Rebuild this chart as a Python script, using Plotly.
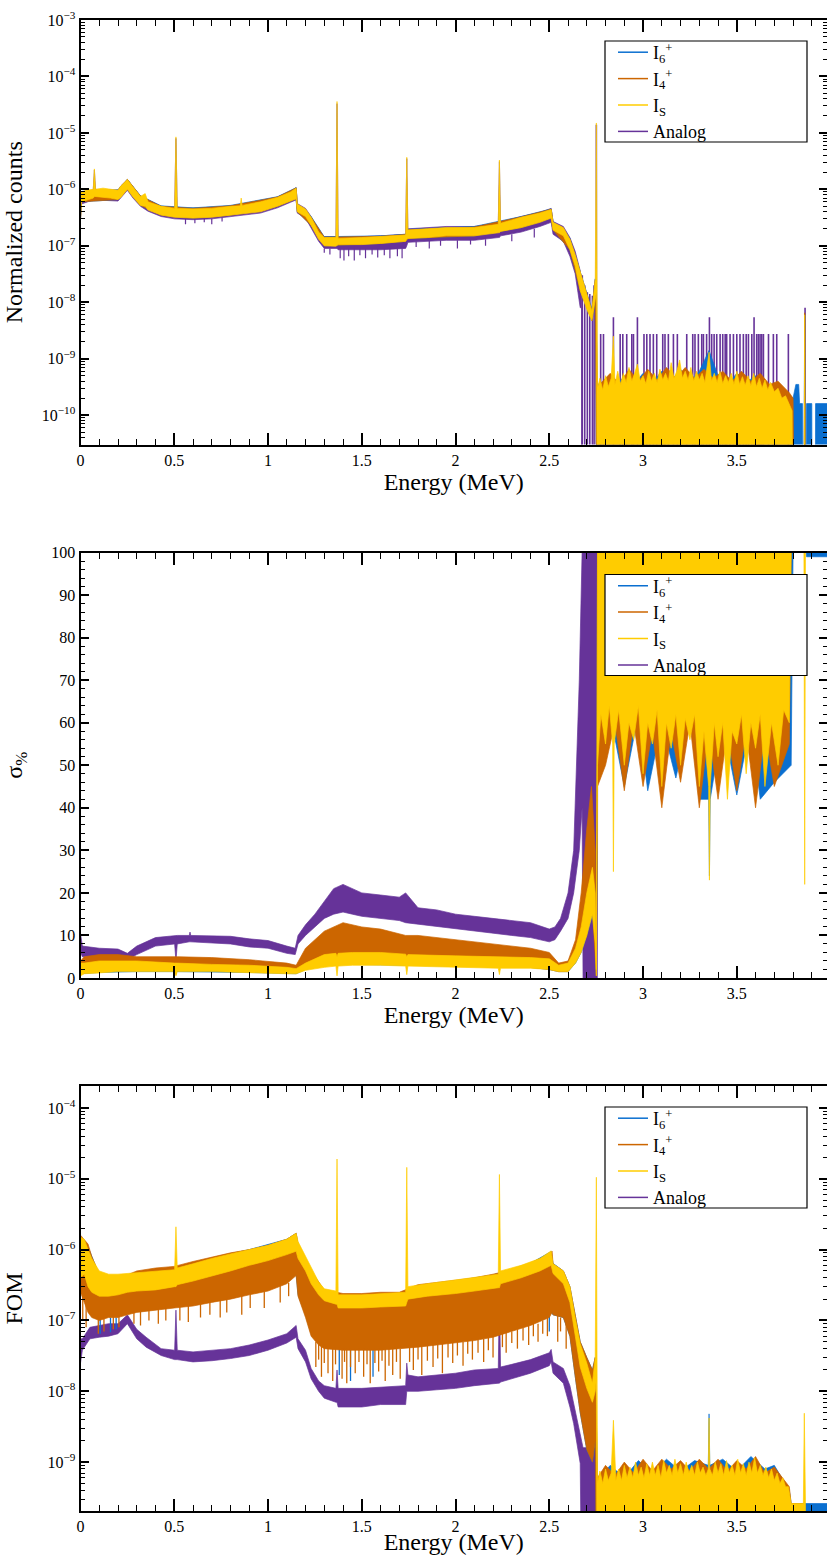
import math
import plotly.graph_objects as go

# ---------------------------------------------------------------- data
# Each series is read off the picture as (energy MeV, lower envelope, upper envelope).
# A lower value of 0 means "no counts" (the band reaches the bottom of the axis).

# Panel 1: normalized counts
p1_is = [
    (0.000, 3.0e-7, 8.0e-7), (0.005, 6.0e-7, 9.0e-7), (0.030, 6.5e-7, 9.6e-7),
    (0.068, 7.0e-7, 1.0e-6), (0.074, 7.5e-7, 2.3e-6), (0.080, 7.5e-7, 1.0e-6),
    (0.120, 7.3e-7, 1.05e-6), (0.160, 7.0e-7, 1.0e-6), (0.200, 6.6e-7, 9.6e-7),
    (0.215, 7.2e-7, 1.15e-6), (0.250, 1.0e-6, 1.5e-6), (0.280, 7.3e-7, 1.1e-6),
    (0.320, 5.2e-7, 7.5e-7), (0.345, 5.0e-7, 8.4e-7), (0.360, 4.3e-7, 6.0e-7),
    (0.430, 3.5e-7, 5.0e-7), (0.502, 3.2e-7, 4.6e-7), (0.509, 3.2e-7, 8.5e-6),
    (0.516, 3.2e-7, 4.6e-7), (0.600, 3.1e-7, 4.5e-7), (0.700, 3.2e-7, 4.6e-7),
    (0.800, 3.5e-7, 5.0e-7), (0.852, 3.7e-7, 5.1e-7), (0.857, 3.7e-7, 7.0e-7),
    (0.862, 3.7e-7, 5.2e-7), (0.960, 4.0e-7, 6.0e-7), (1.050, 5.0e-7, 7.2e-7),
    (1.120, 6.2e-7, 9.0e-7), (1.150, 6.8e-7, 1.05e-6), (1.156, 4.0e-7, 5.5e-7),
    (1.200, 3.3e-7, 4.5e-7), (1.230, 2.3e-7, 3.2e-7), (1.270, 1.3e-7, 1.75e-7),
    (1.300, 1.0e-7, 1.4e-7), (1.362, 9.8e-8, 1.4e-7), (1.368, 1.0e-7, 3.6e-5),
    (1.374, 1.05e-7, 1.35e-7), (1.500, 1.05e-7, 1.4e-7), (1.600, 1.1e-7, 1.45e-7),
    (1.734, 1.2e-7, 1.55e-7), (1.740, 1.3e-7, 3.7e-6), (1.746, 1.35e-7, 1.9e-7),
    (1.850, 1.4e-7, 2.0e-7), (1.950, 1.5e-7, 2.1e-7), (2.100, 1.5e-7, 2.1e-7),
    (2.228, 1.7e-7, 2.4e-7), (2.234, 1.7e-7, 3.3e-6), (2.240, 1.8e-7, 2.5e-7),
    (2.350, 2.1e-7, 3.2e-7), (2.450, 2.6e-7, 3.8e-7), (2.510, 3.1e-7, 4.4e-7),
    (2.520, 1.9e-7, 2.6e-7), (2.575, 1.5e-7, 2.1e-7), (2.610, 8.5e-8, 1.3e-7),
    (2.638, 4.4e-8, 7.0e-8), (2.665, 1.6e-8, 3.4e-8), (2.700, 7.5e-9, 1.3e-8),
    (2.727, 4.7e-9, 7.0e-9), (2.745, 1.1e-8, 2.5e-8), (2.751, 1.5e-8, 1.5e-5),
    (2.757, 0, 3.0e-10), (2.770, 0, 4.5e-10), (2.785, 0, 2.8e-10),
    (2.800, 0, 5.0e-10), (2.815, 0, 3.2e-10), (2.830, 0, 4.5e-10),
    (2.842, 0, 2.5e-9), (2.850, 0, 3.5e-10), (2.865, 0, 6.0e-10),
    (2.880, 0, 3.5e-10), (2.895, 0, 5.5e-10), (2.910, 0, 3.8e-10),
    (2.925, 0, 7.0e-10), (2.940, 0, 4.0e-10), (2.955, 0, 5.5e-10),
    (2.970, 0, 8.0e-10), (2.985, 0, 4.0e-10), (3.000, 0, 5.0e-10),
    (3.015, 0, 3.6e-10), (3.030, 0, 6.0e-10), (3.045, 0, 4.0e-10),
    (3.060, 0, 5.5e-10), (3.075, 0, 3.8e-10), (3.090, 0, 6.5e-10),
    (3.105, 0, 4.2e-10), (3.120, 0, 5.5e-10), (3.135, 0, 4.0e-10),
    (3.150, 0, 8.5e-10), (3.165, 0, 4.5e-10), (3.180, 0, 6.0e-10),
    (3.195, 0, 9.5e-10), (3.210, 0, 4.5e-10), (3.225, 0, 6.0e-10),
    (3.240, 0, 4.2e-10), (3.255, 0, 7.0e-10), (3.270, 0, 4.0e-10),
    (3.285, 0, 6.0e-10), (3.300, 0, 4.2e-10), (3.315, 0, 5.5e-10),
    (3.330, 0, 3.8e-10), (3.352, 0, 1.3e-9), (3.365, 0, 4.0e-10),
    (3.380, 0, 5.5e-10), (3.395, 0, 3.8e-10), (3.410, 0, 6.0e-10),
    (3.425, 0, 3.6e-10), (3.440, 0, 5.0e-10), (3.455, 0, 3.8e-10),
    (3.470, 0, 5.5e-10), (3.485, 0, 3.5e-10), (3.500, 0, 6.0e-10),
    (3.515, 0, 3.5e-10), (3.530, 0, 4.8e-10), (3.545, 0, 3.4e-10),
    (3.560, 0, 5.0e-10), (3.575, 0, 3.3e-10), (3.590, 0, 5.5e-10),
    (3.605, 0, 3.2e-10), (3.620, 0, 4.5e-10), (3.635, 0, 3.0e-10),
    (3.650, 0, 4.2e-10), (3.665, 0, 2.8e-10), (3.680, 0, 3.8e-10),
    (3.700, 0, 2.6e-10), (3.720, 0, 3.0e-10), (3.740, 0, 2.0e-10),
    (3.760, 0, 2.2e-10), (3.780, 0, 1.5e-10), (3.795, 0, 1.2e-10),
    (3.800, 0, 0), (3.858, 0, 0), (3.862, 0, 6.0e-9), (3.866, 0, 0), (3.985, 0, 0),
]
p1_i6 = [
    (0.000, 3.0e-7, 8.2e-7), (0.005, 6.0e-7, 9.2e-7), (0.200, 6.6e-7, 9.8e-7),
    (0.250, 1.0e-6, 1.5e-6), (0.320, 5.2e-7, 7.7e-7), (0.430, 3.5e-7, 5.1e-7),
    (0.600, 3.1e-7, 4.7e-7), (0.800, 3.5e-7, 5.2e-7), (1.050, 5.0e-7, 7.4e-7),
    (1.150, 6.8e-7, 1.07e-6), (1.156, 4.0e-7, 5.6e-7), (1.230, 2.3e-7, 3.3e-7),
    (1.300, 1.0e-7, 1.45e-7), (1.600, 1.1e-7, 1.5e-7), (1.734, 1.2e-7, 1.6e-7),
    (1.746, 1.35e-7, 1.95e-7), (2.100, 1.5e-7, 2.2e-7), (2.350, 2.1e-7, 3.3e-7),
    (2.510, 3.1e-7, 4.5e-7), (2.520, 1.9e-7, 2.7e-7), (2.610, 8.5e-8, 1.35e-7),
    (2.665, 1.6e-8, 3.5e-8), (2.727, 4.7e-9, 7.5e-9), (2.745, 1.1e-8, 2.6e-8),
    (2.757, 0, 3.5e-10), (2.800, 0, 4.0e-10), (2.850, 0, 3.0e-10),
    (2.900, 0, 5.0e-10), (2.950, 0, 3.5e-10), (3.000, 0, 5.5e-10),
    (3.050, 0, 3.8e-10), (3.100, 0, 6.0e-10), (3.150, 0, 4.0e-10),
    (3.200, 0, 6.5e-10), (3.250, 0, 4.0e-10), (3.300, 0, 6.0e-10),
    (3.352, 0, 1.4e-9), (3.400, 0, 5.0e-10), (3.450, 0, 3.5e-10),
    (3.500, 0, 5.5e-10), (3.550, 0, 3.8e-10), (3.600, 0, 5.0e-10),
    (3.650, 0, 3.0e-10), (3.700, 0, 3.5e-10), (3.760, 0, 2.6e-10),
    (3.800, 0, 2.0e-10), (3.815, 0, 3.5e-10), (3.830, 0, 3.5e-10),
    (3.835, 0, 1.6e-10), (3.850, 0, 1.6e-10), (3.855, 0, 0),
    (3.862, 0, 6.0e-9), (3.868, 0, 0), (3.872, 0, 1.6e-10), (3.900, 0, 1.6e-10),
    (3.902, 0, 0), (3.918, 0, 0), (3.920, 0, 1.6e-10), (3.985, 0, 1.6e-10),
]
p1_i4 = [
    (0.000, 3.0e-7, 8.1e-7), (0.005, 6.0e-7, 9.1e-7), (0.200, 6.6e-7, 9.7e-7),
    (0.250, 1.0e-6, 1.5e-6), (0.320, 5.2e-7, 7.6e-7), (0.430, 3.5e-7, 5.0e-7),
    (0.600, 3.1e-7, 4.6e-7), (0.800, 3.5e-7, 5.1e-7), (1.050, 5.0e-7, 7.3e-7),
    (1.150, 6.8e-7, 1.06e-6), (1.156, 4.0e-7, 5.5e-7), (1.230, 2.3e-7, 3.2e-7),
    (1.300, 1.0e-7, 1.42e-7), (1.600, 1.1e-7, 1.47e-7), (1.734, 1.2e-7, 1.58e-7),
    (1.746, 1.35e-7, 1.92e-7), (2.100, 1.5e-7, 2.15e-7), (2.350, 2.1e-7, 3.25e-7),
    (2.510, 3.1e-7, 4.45e-7), (2.520, 1.9e-7, 2.65e-7), (2.610, 8.5e-8, 1.32e-7),
    (2.665, 1.6e-8, 3.4e-8), (2.727, 4.7e-9, 7.2e-9), (2.745, 1.1e-8, 2.5e-8),
    (2.757, 0, 3.2e-10), (2.825, 0, 5.5e-10), (2.875, 0, 3.5e-10),
    (2.925, 0, 6.5e-10), (2.975, 0, 4.0e-10), (3.025, 0, 6.5e-10),
    (3.075, 0, 4.2e-10), (3.125, 0, 7.0e-10), (3.175, 0, 4.5e-10),
    (3.225, 0, 7.0e-10), (3.275, 0, 4.5e-10), (3.325, 0, 6.5e-10),
    (3.375, 0, 4.5e-10), (3.425, 0, 6.0e-10), (3.475, 0, 4.0e-10),
    (3.525, 0, 6.0e-10), (3.575, 0, 4.0e-10), (3.625, 0, 5.5e-10),
    (3.675, 0, 3.5e-10), (3.720, 0, 4.0e-10), (3.780, 0, 2.5e-10),
    (3.800, 0, 2.0e-10), (3.810, 0, 0), (3.858, 0, 0),
    (3.862, 0, 6.5e-9), (3.866, 0, 0), (3.985, 0, 0),
]
p1_analog = [
    (0.000, 3.0e-7, 8.0e-7), (0.005, 5.5e-7, 8.8e-7), (0.068, 6.5e-7, 9.8e-7),
    (0.074, 6.5e-7, 2.2e-6), (0.080, 6.5e-7, 1.0e-6), (0.200, 6.2e-7, 9.6e-7),
    (0.215, 6.9e-7, 1.15e-6), (0.250, 9.6e-7, 1.5e-6), (0.280, 7.0e-7, 1.1e-6),
    (0.320, 5.0e-7, 7.5e-7), (0.360, 4.1e-7, 6.0e-7), (0.430, 3.3e-7, 5.0e-7),
    (0.502, 3.0e-7, 4.6e-7), (0.509, 3.0e-7, 8.0e-6), (0.516, 3.0e-7, 4.6e-7),
    (0.600, 2.9e-7, 4.6e-7), (0.700, 3.0e-7, 4.7e-7), (0.800, 3.3e-7, 5.1e-7),
    (0.960, 3.8e-7, 6.1e-7), (1.050, 4.7e-7, 7.3e-7), (1.120, 5.9e-7, 9.2e-7),
    (1.150, 6.5e-7, 1.07e-6), (1.156, 3.8e-7, 5.6e-7), (1.200, 3.1e-7, 4.6e-7),
    (1.230, 2.1e-7, 3.3e-7), (1.270, 1.2e-7, 1.8e-7), (1.300, 9.0e-8, 1.45e-7),
    (1.362, 9.0e-8, 1.45e-7), (1.368, 9.0e-8, 3.3e-5), (1.374, 8.5e-8, 1.4e-7),
    (1.500, 8.5e-8, 1.45e-7), (1.600, 8.5e-8, 1.5e-7), (1.734, 9.0e-8, 1.6e-7),
    (1.740, 1.0e-7, 3.5e-6), (1.746, 1.15e-7, 2.0e-7), (1.850, 1.2e-7, 2.1e-7),
    (1.950, 1.25e-7, 2.2e-7), (2.100, 1.25e-7, 2.2e-7), (2.228, 1.4e-7, 2.5e-7),
    (2.234, 1.4e-7, 3.1e-6), (2.240, 1.5e-7, 2.6e-7), (2.350, 1.75e-7, 3.3e-7),
    (2.450, 2.2e-7, 3.9e-7), (2.510, 2.6e-7, 4.6e-7), (2.520, 1.6e-7, 2.7e-7),
    (2.575, 1.2e-7, 2.2e-7), (2.610, 6.5e-8, 1.4e-7), (2.638, 3.2e-8, 8.0e-8),
    (2.665, 8.0e-9, 3.6e-8), (2.672, 8.0e-9, 2.4e-8), (2.674, 0, 0),
]
# analog channels poking below its band: (energy, from, down to)
p1_analog_dips = [
    (0.560, 3.0e-7, 2.4e-7), (0.610, 3.0e-7, 2.5e-7), (0.660, 3.0e-7, 2.6e-7),
    (0.700, 3.0e-7, 2.4e-7), (0.755, 3.2e-7, 2.7e-7), (1.300, 9.0e-8, 7.5e-8),
    (1.330, 9.0e-8, 7.0e-8), (1.385, 9.0e-8, 6.0e-8), (1.405, 9.0e-8, 5.5e-8),
    (1.430, 9.0e-8, 6.5e-8), (1.460, 9.0e-8, 5.5e-8), (1.490, 9.0e-8, 6.8e-8),
    (1.520, 9.0e-8, 6.0e-8), (1.555, 9.0e-8, 7.0e-8), (1.585, 9.0e-8, 6.2e-8),
    (1.620, 9.0e-8, 6.8e-8), (1.650, 9.0e-8, 6.0e-8), (1.690, 9.0e-8, 6.5e-8),
    (1.715, 9.0e-8, 6.0e-8), (1.790, 1.2e-7, 9.5e-8), (1.860, 1.25e-7, 9.0e-8),
    (1.920, 1.25e-7, 1.0e-7), (2.010, 1.25e-7, 9.0e-8), (2.080, 1.3e-7, 1.05e-7),
    (2.160, 1.3e-7, 1.0e-7), (2.300, 1.6e-7, 1.2e-7), (2.420, 2.0e-7, 1.4e-7),
]
# isolated analog channels (single counts) beyond the band
p1_analog_spike_e = [
    2.676, 2.689, 2.703, 2.716, 2.730, 2.739, 2.751, 2.774, 2.789, 2.842, 2.878,
    2.892, 2.913, 2.940, 2.949, 2.970, 3.005, 3.020, 3.037, 3.055, 3.073, 3.105,
    3.117, 3.135, 3.162, 3.183, 3.233, 3.265, 3.277, 3.295, 3.313, 3.322, 3.339,
    3.354, 3.366, 3.379, 3.393, 3.411, 3.425, 3.438, 3.446, 3.464, 3.482, 3.500,
    3.517, 3.535, 3.550, 3.562, 3.580, 3.592, 3.606, 3.615, 3.624, 3.633, 3.642,
    3.669, 3.695, 3.713, 3.775, 3.864,
]
p1_analog_spike_h = [
    3.0e-8, 2.0e-8, 1.5e-8, 1.4e-8, 1.3e-8, 2.0e-8, 1.4e-5, 2.74e-9, 2.74e-9, 5.4e-9, 2.74e-9,
    2.74e-9, 2.74e-9, 2.74e-9, 2.74e-9, 5.4e-9, 2.74e-9, 2.74e-9, 2.74e-9, 2.74e-9, 2.74e-9, 2.74e-9,
    2.74e-9, 2.74e-9, 2.74e-9, 2.74e-9, 2.74e-9, 2.74e-9, 2.74e-9, 2.74e-9, 2.74e-9, 2.74e-9, 2.74e-9,
    5.4e-9, 2.74e-9, 2.74e-9, 2.74e-9, 2.74e-9, 2.74e-9, 2.74e-9, 2.74e-9, 2.74e-9, 2.74e-9, 2.74e-9,
    2.74e-9, 2.74e-9, 2.74e-9, 2.74e-9, 2.74e-9, 5.4e-9, 2.74e-9, 2.74e-9, 2.74e-9, 2.74e-9, 2.74e-9,
    2.74e-9, 2.74e-9, 2.74e-9, 2.74e-9, 8.0e-9,
]

# Panel 2: relative error sigma_% (linear, clipped at 100)
p2_is = [
    (0.000, 0.5, 3.5), (0.020, 1.0, 3.5), (0.100, 1.2, 4.0), (0.200, 1.5, 4.0),
    (0.300, 1.5, 4.0), (0.502, 1.5, 3.5), (0.509, 0.5, 3.5), (0.516, 1.5, 3.5),
    (0.700, 1.5, 3.2), (0.900, 1.3, 3.0), (1.100, 1.0, 2.5), (1.150, 1.0, 2.2),
    (1.200, 1.8, 3.5), (1.300, 2.5, 5.5), (1.362, 2.8, 5.8), (1.368, 0.5, 5.0),
    (1.374, 2.8, 5.8), (1.450, 3.0, 6.0), (1.600, 3.0, 6.0), (1.734, 2.8, 5.6),
    (1.740, 0.8, 5.0), (1.746, 2.8, 5.5), (2.000, 2.5, 5.2), (2.228, 2.3, 5.0),
    (2.234, 0.8, 5.0), (2.240, 2.3, 5.0), (2.400, 2.3, 4.8), (2.500, 2.0, 4.5),
    (2.550, 1.5, 3.0), (2.600, 1.5, 3.5), (2.640, 3.5, 7.0), (2.670, 6.0, 12.0),
    (2.700, 10.0, 20.0), (2.730, 15.0, 26.0), (2.745, 8.0, 20.0), (2.751, 0.5, 2.0),
    (2.757, 50, 100), (2.775, 62, 100), (2.800, 55, 100), (2.820, 64, 100),
    (2.838, 55, 100), (2.842, 25, 100), (2.846, 55, 100), (2.870, 63, 100),
    (2.900, 50, 100), (2.925, 60, 100), (2.950, 56, 100), (2.975, 64, 100),
    (3.000, 48, 100), (3.025, 60, 100), (3.050, 55, 100), (3.075, 63, 100),
    (3.100, 45, 100), (3.125, 60, 100), (3.150, 54, 100), (3.175, 62, 100),
    (3.200, 50, 100), (3.225, 61, 100), (3.250, 56, 100), (3.275, 62, 100),
    (3.300, 45, 100), (3.325, 58, 100), (3.350, 45, 100), (3.354, 23, 100),
    (3.358, 45, 100), (3.380, 60, 100), (3.400, 52, 100), (3.425, 60, 100),
    (3.450, 42, 100), (3.475, 58, 100), (3.500, 55, 100), (3.525, 62, 100),
    (3.550, 48, 100), (3.575, 60, 100), (3.600, 54, 100), (3.625, 62, 100),
    (3.650, 45, 100), (3.685, 60, 100), (3.720, 50, 100), (3.750, 63, 100),
    (3.780, 60, 100), (3.790, 100, 100), (3.858, 100, 100), (3.862, 22, 100),
    (3.866, 100, 100), (3.985, 100, 100),
]
p2_i4 = [
    (0.000, 1.5, 4.0), (0.020, 2.0, 5.0), (0.100, 2.2, 5.5), (0.200, 2.5, 5.5),
    (0.300, 2.2, 5.0), (0.502, 2.0, 5.0), (0.509, 0.8, 5.0), (0.516, 2.0, 5.0),
    (0.700, 2.0, 4.8), (0.900, 1.8, 4.3), (1.100, 1.5, 3.5), (1.150, 1.5, 3.0),
    (1.200, 3.0, 7.0), (1.300, 4.0, 11.0), (1.400, 4.5, 13.0), (1.500, 4.0, 12.0),
    (1.600, 4.0, 11.5), (1.734, 3.5, 10.0), (1.800, 3.5, 10.0), (2.000, 3.0, 9.0),
    (2.200, 2.8, 8.0), (2.400, 2.5, 7.0), (2.500, 2.0, 6.0), (2.550, 1.5, 3.5),
    (2.600, 1.5, 4.0), (2.640, 4.0, 9.0), (2.670, 7.0, 20.0), (2.700, 10.0, 35.0),
    (2.725, 20.0, 45.0), (2.745, 5.0, 30.0), (2.751, 0.5, 3.0), (2.757, 45, 100),
    (2.800, 50, 100), (2.850, 60, 100), (2.900, 44, 100), (2.950, 60, 100),
    (3.000, 45, 100), (3.050, 58, 100), (3.100, 40, 100), (3.150, 58, 100),
    (3.200, 46, 100), (3.250, 60, 100), (3.300, 40, 100), (3.350, 58, 100),
    (3.400, 42, 100), (3.450, 58, 100), (3.500, 44, 100), (3.550, 58, 100),
    (3.600, 40, 100), (3.650, 58, 100), (3.700, 45, 100), (3.780, 55, 100),
    (3.790, 100, 100), (3.985, 100, 100),
]
p2_i6 = [
    (0.000, 1.0, 3.8), (0.100, 1.3, 4.5), (0.300, 1.5, 4.5), (0.500, 1.5, 4.0),
    (0.900, 1.3, 3.5), (1.150, 1.0, 2.5), (1.200, 2.0, 4.5), (1.300, 3.0, 8.0),
    (1.450, 3.2, 9.0), (1.600, 3.0, 8.0), (1.750, 3.0, 7.0), (2.000, 2.8, 6.5),
    (2.400, 2.5, 6.0), (2.500, 2.0, 5.0), (2.550, 1.5, 3.2), (2.600, 1.5, 3.8),
    (2.640, 3.5, 7.5), (2.670, 6.0, 13.0), (2.700, 10.0, 22.0), (2.730, 15.0, 28.0),
    (2.745, 8.0, 22.0), (2.751, 0.5, 2.0), (2.757, 48, 100), (2.825, 62, 100),
    (2.900, 45, 100), (2.975, 62, 100), (3.025, 44, 100), (3.100, 60, 100),
    (3.175, 47, 100), (3.250, 62, 100), (3.300, 42, 100), (3.350, 42, 100),
    (3.354, 24, 100), (3.358, 42, 100), (3.425, 60, 100), (3.500, 43, 100),
    (3.575, 60, 100), (3.625, 42, 100), (3.700, 46, 100), (3.790, 50, 100),
    (3.800, 100, 100), (3.870, 100, 100), (3.872, 99, 100), (3.985, 99, 100),
]
p2_analog = [
    (0.000, 6.0, 10.5), (0.010, 5.0, 7.5), (0.100, 5.0, 7.0), (0.200, 4.8, 6.8),
    (0.250, 4.3, 5.8), (0.300, 5.5, 7.5), (0.400, 7.5, 9.5), (0.502, 8.0, 10.0),
    (0.509, 4.0, 10.0), (0.516, 8.0, 10.0), (0.580, 8.5, 10.0), (0.584, 8.5, 10.8),
    (0.588, 8.5, 10.0), (0.800, 8.0, 9.8), (0.900, 7.3, 9.2), (1.000, 7.0, 8.8),
    (1.100, 5.8, 7.5), (1.145, 5.5, 7.0), (1.160, 8.0, 10.0), (1.200, 10.0, 12.5),
    (1.250, 12.0, 15.0), (1.300, 14.0, 18.0), (1.350, 15.0, 21.0), (1.400, 15.5, 22.0),
    (1.450, 15.0, 21.0), (1.500, 14.5, 20.0), (1.600, 14.0, 19.5), (1.700, 13.5, 19.0),
    (1.734, 13.0, 20.0), (1.800, 12.5, 16.5), (1.900, 12.0, 16.0), (2.000, 11.5, 15.0),
    (2.100, 11.0, 14.5), (2.200, 10.5, 14.0), (2.300, 10.0, 13.5), (2.400, 9.5, 13.0),
    (2.500, 8.5, 11.5), (2.530, 9.0, 12.0), (2.560, 11.0, 14.0), (2.600, 14.0, 20.0),
    (2.630, 20.0, 30.0), (2.660, 30.0, 70.0), (2.675, 40.0, 100), (2.680, 0, 100),
    (2.756, 0, 100), (2.760, 100, 100),
]

# Panel 3: figure of merit
p3_is = [
    (0.000, 4.0e-7, 1.5e-6), (0.020, 4.5e-7, 1.4e-6), (0.040, 3.0e-7, 1.0e-6),
    (0.060, 2.5e-7, 7.5e-7), (0.100, 2.2e-7, 5.0e-7), (0.150, 2.2e-7, 4.5e-7),
    (0.200, 2.3e-7, 4.5e-7), (0.250, 2.5e-7, 4.6e-7), (0.300, 2.6e-7, 4.8e-7),
    (0.400, 2.7e-7, 5.0e-7), (0.502, 3.0e-7, 5.2e-7), (0.509, 3.0e-7, 2.1e-6),
    (0.516, 3.2e-7, 5.5e-7), (0.600, 3.6e-7, 6.3e-7), (0.700, 4.2e-7, 7.5e-7),
    (0.800, 5.0e-7, 8.7e-7), (0.900, 6.0e-7, 1.0e-6), (1.000, 7.0e-7, 1.15e-6),
    (1.100, 8.5e-7, 1.4e-6), (1.150, 9.5e-7, 1.7e-6), (1.160, 7.5e-7, 1.3e-6),
    (1.200, 5.0e-7, 8.0e-7), (1.230, 3.3e-7, 5.5e-7), (1.270, 2.3e-7, 3.5e-7),
    (1.300, 1.9e-7, 2.8e-7), (1.362, 1.7e-7, 2.6e-7), (1.368, 1.7e-7, 1.9e-5),
    (1.374, 1.5e-7, 2.3e-7), (1.500, 1.5e-7, 2.3e-7), (1.600, 1.55e-7, 2.4e-7),
    (1.734, 1.6e-7, 2.5e-7), (1.740, 1.8e-7, 1.45e-5), (1.746, 2.0e-7, 3.0e-7),
    (1.850, 2.2e-7, 3.3e-7), (2.000, 2.4e-7, 3.7e-7), (2.100, 2.6e-7, 4.0e-7),
    (2.228, 2.9e-7, 4.5e-7), (2.234, 2.9e-7, 1.15e-5), (2.240, 3.3e-7, 5.0e-7),
    (2.350, 4.0e-7, 6.0e-7), (2.450, 5.0e-7, 7.5e-7), (2.510, 6.0e-7, 9.6e-7),
    (2.520, 4.6e-7, 6.3e-7), (2.575, 3.3e-7, 5.0e-7), (2.610, 1.8e-7, 3.0e-7),
    (2.638, 6.0e-8, 1.1e-7), (2.665, 2.2e-8, 4.7e-8), (2.700, 1.1e-8, 2.5e-8),
    (2.730, 7.0e-9, 1.3e-8), (2.745, 1.0e-8, 3.0e-8), (2.751, 1.5e-8, 1.05e-5),
    (2.757, 0, 5.0e-10), (2.770, 0, 7.5e-10), (2.785, 0, 5.0e-10),
    (2.800, 0, 8.0e-10), (2.815, 0, 5.5e-10), (2.830, 0, 7.0e-10),
    (2.842, 0, 3.9e-9), (2.855, 0, 5.5e-10), (2.870, 0, 8.0e-10),
    (2.885, 0, 5.5e-10), (2.900, 0, 9.0e-10), (2.915, 0, 6.0e-10),
    (2.930, 0, 8.5e-10), (2.945, 0, 6.0e-10), (2.960, 0, 1.0e-9),
    (2.975, 0, 6.5e-10), (2.990, 0, 8.5e-10), (3.005, 0, 6.0e-10),
    (3.020, 0, 9.5e-10), (3.035, 0, 6.5e-10), (3.050, 0, 1.0e-9),
    (3.065, 0, 6.5e-10), (3.080, 0, 9.0e-10), (3.095, 0, 6.0e-10),
    (3.110, 0, 1.05e-9), (3.125, 0, 7.0e-10), (3.140, 0, 9.0e-10),
    (3.155, 0, 6.5e-10), (3.170, 0, 1.1e-9), (3.185, 0, 7.0e-10),
    (3.200, 0, 9.5e-10), (3.215, 0, 6.5e-10), (3.230, 0, 1.0e-9),
    (3.245, 0, 7.0e-10), (3.260, 0, 9.0e-10), (3.275, 0, 6.5e-10),
    (3.290, 0, 1.0e-9), (3.305, 0, 7.0e-10), (3.320, 0, 8.5e-10),
    (3.335, 0, 6.5e-10), (3.348, 0, 8.0e-10), (3.352, 0, 4.2e-9),
    (3.356, 0, 8.0e-10), (3.370, 0, 6.5e-10), (3.385, 0, 1.0e-9),
    (3.400, 0, 7.0e-10), (3.415, 0, 9.5e-10), (3.430, 0, 6.5e-10),
    (3.445, 0, 1.05e-9), (3.460, 0, 7.0e-10), (3.475, 0, 9.0e-10),
    (3.490, 0, 6.5e-10), (3.505, 0, 1.1e-9), (3.520, 0, 7.0e-10),
    (3.535, 0, 9.5e-10), (3.550, 0, 6.5e-10), (3.565, 0, 1.0e-9),
    (3.580, 0, 7.0e-10), (3.595, 0, 1.15e-9), (3.610, 0, 7.0e-10),
    (3.625, 0, 9.0e-10), (3.640, 0, 6.5e-10), (3.655, 0, 8.5e-10),
    (3.670, 0, 6.0e-10), (3.685, 0, 8.0e-10), (3.700, 0, 5.5e-10),
    (3.715, 0, 7.0e-10), (3.730, 0, 5.0e-10), (3.745, 0, 6.0e-10),
    (3.760, 0, 4.5e-10), (3.775, 0, 4.5e-10), (3.790, 0, 2.6e-10),
    (3.855, 0, 2.6e-10), (3.860, 0, 4.9e-9), (3.866, 0, 2.6e-10),
    (3.870, 0, 0), (3.985, 0, 0),
]
p3_i4 = [
    (0.000, 2.5e-7, 1.6e-6), (0.040, 1.3e-7, 1.2e-6), (0.060, 1.1e-7, 8.0e-7),
    (0.100, 1.0e-7, 4.5e-7), (0.150, 1.1e-7, 4.0e-7), (0.200, 1.1e-7, 4.0e-7),
    (0.250, 1.2e-7, 4.4e-7), (0.300, 1.3e-7, 5.0e-7), (0.400, 1.4e-7, 5.5e-7),
    (0.500, 1.5e-7, 5.8e-7), (0.600, 1.6e-7, 6.8e-7), (0.700, 1.8e-7, 7.8e-7),
    (0.800, 2.0e-7, 9.0e-7), (0.900, 2.3e-7, 1.0e-6), (1.000, 2.6e-7, 1.15e-6),
    (1.100, 3.3e-7, 1.4e-6), (1.150, 4.3e-7, 1.7e-6), (1.160, 2.2e-7, 1.2e-6),
    (1.200, 1.1e-7, 7.0e-7), (1.230, 6.0e-8, 5.0e-7), (1.270, 4.5e-8, 3.5e-7),
    (1.300, 4.0e-8, 2.7e-7), (1.400, 3.8e-8, 2.4e-7), (1.500, 3.8e-8, 2.4e-7),
    (1.600, 3.8e-8, 2.5e-7), (1.700, 4.0e-8, 2.5e-7), (1.800, 4.2e-8, 3.2e-7),
    (1.900, 4.5e-8, 3.4e-7), (2.000, 4.8e-8, 3.7e-7), (2.100, 5.2e-8, 4.0e-7),
    (2.200, 5.8e-8, 4.5e-7), (2.300, 7.0e-8, 5.2e-7), (2.400, 8.5e-8, 6.5e-7),
    (2.500, 1.1e-7, 8.5e-7), (2.515, 1.3e-7, 9.5e-7), (2.520, 1.2e-7, 6.3e-7),
    (2.575, 1.1e-7, 5.0e-7), (2.610, 6.0e-8, 3.0e-7), (2.640, 1.5e-8, 1.1e-7),
    (2.665, 5.0e-9, 5.0e-8), (2.700, 1.5e-9, 3.0e-8), (2.730, 1.0e-9, 2.0e-8),
    (2.745, 2.0e-9, 3.0e-8), (2.757, 0, 6.0e-10), (2.800, 0, 9.0e-10),
    (2.850, 0, 6.5e-10), (2.900, 0, 1.0e-9), (2.950, 0, 7.0e-10),
    (3.000, 0, 1.1e-9), (3.050, 0, 7.5e-10), (3.100, 0, 1.1e-9),
    (3.150, 0, 8.0e-10), (3.200, 0, 1.05e-9), (3.250, 0, 7.5e-10),
    (3.300, 0, 1.1e-9), (3.350, 0, 8.0e-10), (3.400, 0, 1.1e-9),
    (3.450, 0, 7.5e-10), (3.500, 0, 1.05e-9), (3.550, 0, 8.0e-10),
    (3.600, 0, 1.2e-9), (3.650, 0, 7.0e-10), (3.700, 0, 8.5e-10),
    (3.780, 0, 4.5e-10), (3.790, 0, 2.6e-10), (3.855, 0, 2.6e-10),
    (3.870, 0, 0), (3.985, 0, 0),
]
# I4+ channels reaching below the dense part of its band: (energy, from, down to)
p3_i4_dips = [
    (0.012, 3.0e-7, 1.0e-7), (0.030, 2.0e-7, 8.0e-8), (0.095, 1.2e-7, 6.5e-8),
    (0.125, 1.2e-7, 7.0e-8), (0.175, 1.2e-7, 7.5e-8), (0.205, 1.2e-7, 8.0e-8),
    (0.285, 1.4e-7, 9.0e-8), (0.320, 1.4e-7, 8.5e-8), (0.365, 1.5e-7, 1.0e-7),
    (0.415, 1.5e-7, 9.0e-8), (0.455, 1.6e-7, 1.0e-7), (0.530, 1.6e-7, 1.0e-7),
    (0.575, 1.7e-7, 9.5e-8), (0.640, 1.8e-7, 1.1e-7), (0.690, 1.9e-7, 1.2e-7),
    (0.745, 2.0e-7, 1.1e-7), (0.780, 2.1e-7, 1.3e-7), (0.860, 2.4e-7, 1.2e-7),
    (0.905, 2.4e-7, 1.5e-7), (0.980, 2.7e-7, 1.5e-7), (1.065, 3.4e-7, 1.8e-7),
    (1.110, 3.4e-7, 2.2e-7), (1.255, 5.0e-8, 2.2e-8), (1.270, 5.0e-8, 2.8e-8),
    (1.285, 4.5e-8, 1.6e-8), (1.300, 4.5e-8, 2.5e-8), (1.320, 4.0e-8, 1.8e-8),
    (1.345, 4.0e-8, 1.4e-8), (1.360, 4.0e-8, 2.4e-8), (1.395, 4.0e-8, 1.5e-8),
    (1.408, 4.0e-8, 2.6e-8), (1.420, 4.0e-8, 1.3e-8), (1.440, 4.0e-8, 2.2e-8),
    (1.465, 4.0e-8, 1.8e-8), (1.485, 4.0e-8, 2.6e-8), (1.510, 4.0e-8, 1.6e-8),
    (1.528, 4.0e-8, 2.4e-8), (1.545, 4.0e-8, 1.3e-8), (1.570, 4.0e-8, 2.5e-8),
    (1.590, 4.0e-8, 1.9e-8), (1.608, 4.0e-8, 2.7e-8), (1.625, 4.0e-8, 1.4e-8),
    (1.645, 4.0e-8, 2.3e-8), (1.665, 4.0e-8, 1.7e-8), (1.685, 4.0e-8, 2.6e-8),
    (1.705, 4.0e-8, 1.5e-8), (1.755, 4.5e-8, 2.6e-8), (1.775, 4.5e-8, 2.0e-8),
    (1.800, 4.5e-8, 2.8e-8), (1.820, 4.5e-8, 1.7e-8), (1.850, 4.5e-8, 2.7e-8),
    (1.880, 4.5e-8, 2.2e-8), (1.905, 4.8e-8, 2.9e-8), (1.930, 4.8e-8, 1.8e-8),
    (1.960, 5.0e-8, 3.0e-8), (1.985, 5.0e-8, 2.5e-8), (2.010, 5.0e-8, 3.2e-8),
    (2.040, 5.0e-8, 2.3e-8), (2.065, 5.2e-8, 3.4e-8), (2.090, 5.5e-8, 2.8e-8),
    (2.120, 5.5e-8, 3.5e-8), (2.150, 5.5e-8, 2.6e-8), (2.175, 6.0e-8, 3.8e-8),
    (2.200, 6.0e-8, 3.0e-8), (2.250, 6.5e-8, 4.2e-8), (2.270, 7.0e-8, 3.5e-8),
    (2.300, 7.0e-8, 4.8e-8), (2.330, 7.5e-8, 4.0e-8), (2.360, 8.0e-8, 5.2e-8),
    (2.390, 8.5e-8, 4.5e-8), (2.415, 9.0e-8, 6.0e-8), (2.440, 9.0e-8, 5.0e-8),
    (2.465, 1.0e-7, 6.5e-8), (2.490, 1.1e-7, 6.0e-8), (2.545, 1.2e-7, 5.0e-8),
    (2.560, 1.1e-7, 7.0e-8), (2.590, 9.0e-8, 4.0e-8),
]
p3_i6 = [
    (0.000, 3.0e-7, 1.5e-6), (0.040, 1.4e-7, 1.1e-6), (0.100, 1.1e-7, 4.4e-7),
    (0.200, 1.2e-7, 3.9e-7), (0.250, 1.3e-7, 4.3e-7), (0.300, 1.4e-7, 4.8e-7),
    (0.500, 1.6e-7, 5.5e-7), (0.700, 1.9e-7, 7.6e-7), (0.900, 2.4e-7, 1.0e-6),
    (1.100, 3.5e-7, 1.4e-6), (1.150, 4.5e-7, 1.7e-6), (1.160, 2.3e-7, 1.2e-6),
    (1.200, 1.2e-7, 7.0e-7), (1.230, 6.5e-8, 5.0e-7), (1.270, 4.8e-8, 3.4e-7),
    (1.300, 4.2e-8, 2.6e-7), (1.400, 4.0e-8, 2.3e-7), (1.500, 4.0e-8, 2.3e-7),
    (1.700, 4.2e-8, 2.4e-7), (1.800, 4.5e-8, 3.1e-7), (2.000, 5.0e-8, 3.6e-7),
    (2.200, 6.0e-8, 4.4e-7), (2.400, 9.0e-8, 6.4e-7), (2.510, 1.3e-7, 9.4e-7),
    (2.520, 1.2e-7, 6.4e-7), (2.575, 1.1e-7, 5.0e-7), (2.610, 6.0e-8, 3.0e-7),
    (2.640, 1.5e-8, 1.1e-7), (2.665, 5.0e-9, 5.0e-8), (2.700, 1.5e-9, 3.0e-8),
    (2.730, 1.0e-9, 2.0e-8), (2.745, 2.0e-9, 3.0e-8), (2.757, 0, 5.5e-10),
    (2.825, 0, 9.0e-10), (2.900, 0, 6.0e-10), (2.975, 0, 1.05e-9),
    (3.050, 0, 7.0e-10), (3.125, 0, 1.1e-9), (3.200, 0, 7.5e-10),
    (3.275, 0, 1.05e-9), (3.348, 0, 9.0e-10), (3.352, 0, 4.8e-9),
    (3.356, 0, 9.0e-10), (3.425, 0, 1.1e-9), (3.500, 0, 7.5e-10),
    (3.575, 0, 1.2e-9), (3.650, 0, 8.0e-10), (3.700, 0, 9.0e-10),
    (3.780, 0, 4.0e-10), (3.790, 0, 2.6e-10), (3.870, 0, 2.6e-10),
    (3.985, 0, 2.6e-10),
]
p3_i6_dips = [
    (0.105, 1.1e-7, 6.5e-8), (0.160, 1.1e-7, 6.8e-8), (0.190, 1.1e-7, 7.5e-8),
    (1.380, 4.0e-8, 1.7e-8), (1.440, 4.0e-8, 1.4e-8), (1.560, 4.0e-8, 1.6e-8),
    (2.500, 1.2e-7, 7.0e-8),
]
p3_analog = [
    (0.000, 2.5e-8, 5.5e-8), (0.010, 3.8e-8, 5.5e-8), (0.050, 5.5e-8, 8.0e-8),
    (0.100, 5.8e-8, 8.5e-8), (0.150, 6.0e-8, 9.0e-8), (0.200, 6.5e-8, 9.0e-8),
    (0.250, 9.0e-8, 1.2e-7), (0.300, 5.5e-8, 7.5e-8), (0.350, 4.2e-8, 5.8e-8),
    (0.430, 3.2e-8, 4.0e-8), (0.502, 2.8e-8, 3.8e-8), (0.509, 2.8e-8, 1.4e-7),
    (0.516, 2.8e-8, 3.8e-8), (0.600, 2.6e-8, 3.6e-8), (0.700, 2.7e-8, 3.8e-8),
    (0.800, 2.9e-8, 4.0e-8), (0.900, 3.2e-8, 4.5e-8), (1.000, 3.8e-8, 5.3e-8),
    (1.100, 4.8e-8, 6.5e-8), (1.150, 5.8e-8, 8.5e-8), (1.160, 4.0e-8, 5.5e-8),
    (1.200, 2.6e-8, 3.8e-8), (1.230, 1.5e-8, 2.1e-8), (1.270, 1.0e-8, 1.4e-8),
    (1.300, 8.0e-9, 1.2e-8), (1.362, 7.0e-9, 1.1e-8), (1.368, 7.0e-9, 2.0e-8),
    (1.374, 6.0e-9, 1.1e-8), (1.500, 6.0e-9, 1.1e-8), (1.600, 6.5e-9, 1.15e-8),
    (1.734, 6.5e-9, 1.2e-8), (1.740, 1.0e-8, 2.5e-8), (1.746, 1.0e-8, 1.7e-8),
    (1.800, 1.0e-8, 1.6e-8), (1.900, 1.05e-8, 1.7e-8), (2.000, 1.1e-8, 1.8e-8),
    (2.100, 1.2e-8, 2.0e-8), (2.228, 1.3e-8, 2.1e-8), (2.234, 1.3e-8, 2.5e-7),
    (2.240, 1.35e-8, 2.2e-8), (2.300, 1.5e-8, 2.4e-8), (2.400, 1.8e-8, 2.8e-8),
    (2.500, 2.3e-8, 3.5e-8), (2.510, 2.6e-8, 3.9e-8), (2.520, 1.8e-8, 2.6e-8),
    (2.575, 1.3e-8, 2.1e-8), (2.610, 6.0e-9, 1.2e-8), (2.630, 3.5e-9, 6.7e-9),
    (2.665, 9.6e-10, 2.3e-9), (2.680, 0, 1.6e-9), (2.750, 0, 1.6e-9),
    (2.754, 0, 0),
]

# ---------------------------------------------------------------- styling
FONT = "Liberation Serif"
BLUE = "#0A6FD0"
ORANGE = "#CC6600"
YELLOW = "#FFCC00"
PURPLE = "#663399"
TINY = 1e-13  # stands in for zero on the log axes
XDOM = [80.5 / 827, 1.0]
H = 1555


def band(pts, color, xa, ya, log=True):
    e = [p[0] for p in pts]
    lo = [(p[1] if p[1] > 0 else TINY) if log else p[1] for p in pts]
    hi = [(p[2] if p[2] > 0 else TINY) if log else p[2] for p in pts]
    return go.Scatter(
        x=e + e[::-1], y=hi + lo[::-1], mode="lines", fill="toself",
        fillcolor=color, line=dict(color=color, width=0.7),
        xaxis=xa, yaxis=ya, showlegend=False, hoverinfo="skip",
    )


def segments(rows, color, xa, ya, width=1.3):
    x, y = [], []
    for e, a, b in rows:
        x += [e, e, None]
        y += [a, b, None]
    return go.Scatter(x=x, y=y, mode="lines", line=dict(color=color, width=width),
                      xaxis=xa, yaxis=ya, showlegend=False, hoverinfo="skip")


fig = go.Figure()

# panel 1
fig.add_trace(band(p1_analog, PURPLE, "x", "y"))
fig.add_trace(segments(p1_analog_dips, PURPLE, "x", "y", 1.2))
fig.add_trace(segments([(e, TINY, h) for e, h in zip(p1_analog_spike_e, p1_analog_spike_h)],
                       PURPLE, "x", "y", 1.6))
fig.add_trace(band(p1_i6, BLUE, "x", "y"))
fig.add_trace(band(p1_i4, ORANGE, "x", "y"))
fig.add_trace(band(p1_is, YELLOW, "x", "y"))

# panel 2
fig.add_trace(band(p2_analog, PURPLE, "x2", "y2", log=False))
fig.add_trace(band(p2_i6, BLUE, "x2", "y2", log=False))
fig.add_trace(band(p2_i4, ORANGE, "x2", "y2", log=False))
fig.add_trace(band(p2_is, YELLOW, "x2", "y2", log=False))

# panel 3
fig.add_trace(band(p3_analog, PURPLE, "x3", "y3"))
fig.add_trace(band(p3_i6, BLUE, "x3", "y3"))
fig.add_trace(segments(p3_i6_dips, BLUE, "x3", "y3", 1.3))
fig.add_trace(band(p3_i4, ORANGE, "x3", "y3"))
fig.add_trace(segments(p3_i4_dips, ORANGE, "x3", "y3", 1.3))
fig.add_trace(band(p3_is, YELLOW, "x3", "y3"))

# legend entries, one legend per panel
names = ["I<sub>6</sub><sup>+</sup>", "I<sub>4</sub><sup>+</sup>", "I<sub>S</sub>", "Analog"]
colors = [BLUE, ORANGE, YELLOW, PURPLE]
for xa, ya, lg in [("x", "y", "legend"), ("x2", "y2", "legend2"), ("x3", "y3", "legend3")]:
    for name, col in zip(names, colors):
        fig.add_trace(go.Scatter(x=[None], y=[None], mode="lines", name=name,
                                 line=dict(color=col, width=1.5), xaxis=xa, yaxis=ya,
                                 legend=lg))


def px_y(p):
    return 1 - p / H


axis_common = dict(
    showline=True, linecolor="black", linewidth=2, mirror="ticks",
    ticks="inside", tickcolor="black", tickwidth=1.5, showgrid=False,
    zeroline=False, automargin=False,
    tickfont=dict(family=FONT, size=16, color="black"),
)
title_font = dict(family=FONT, size=24, color="black")


def xaxis(anchor):
    return dict(
        axis_common, domain=XDOM, range=[0, 3.981], anchor=anchor,
        dtick=0.5, tick0=0, ticklen=12,
        minor=dict(ticks="inside", dtick=0.1, tick0=0, ticklen=6, tickwidth=1.2,
                   tickcolor="black", showgrid=False),
        title=dict(text="Energy (MeV)", font=title_font, standoff=0),
    )


def logaxis(anchor, dom, lo, hi, title):
    vals = [10.0 ** k for k in range(math.ceil(lo), math.floor(hi) + 1)]
    minors = [m * 10.0 ** k for k in range(math.floor(lo), math.ceil(hi)) for m in range(2, 10)]
    return dict(
        axis_common, type="log", domain=dom, range=[lo, hi], anchor=anchor,
        tickmode="array", tickvals=vals,
        ticktext=["10<sup>\u2212%d</sup>" % (-round(math.log10(v))) for v in vals],
        ticklen=8,
        minor=dict(ticks="inside", tickmode="array", tickvals=minors, ticklen=4,
                   tickwidth=1.2, tickcolor="black", showgrid=False),
        title=dict(text=title, font=title_font),
    )


y1_dom = [px_y(444.5), px_y(20)]
y2_dom = [px_y(978), px_y(552.5)]
y3_dom = [px_y(1511), px_y(1086)]

legend_style = dict(font=dict(family=FONT, size=18, color="black"), bgcolor="rgba(0,0,0,0)",
                    borderwidth=0, xanchor="left", yanchor="top", x=613 / 827,
                    traceorder="normal")

box_tops = [41, 574.5, 1107]
shapes = [dict(type="rect", xref="paper", yref="paper", x0=605 / 827, x1=807 / 827,
               y0=px_y(t + 101), y1=px_y(t), fillcolor="white",
               line=dict(color="black", width=1.2), layer="above") for t in box_tops]

fig.update_layout(
    template="none",
    width=827, height=H,
    margin=dict(l=0, r=0, t=0, b=0, pad=0),
    paper_bgcolor="white", plot_bgcolor="white",
    font=dict(family=FONT, color="black"),
    xaxis=xaxis("y"), xaxis2=xaxis("y2"), xaxis3=xaxis("y3"),
    yaxis=logaxis("x", y1_dom, -10.52, -3.0, "Normalized counts"),
    yaxis2=dict(
        axis_common, domain=y2_dom, range=[0, 100], anchor="x2", dtick=10, ticklen=8,
        minor=dict(ticks="inside", dtick=2, ticklen=4, tickwidth=1.2, tickcolor="black", showgrid=False),
        title=dict(text="\u03c3<sub>%</sub>", font=title_font),
    ),
    yaxis3=logaxis("x3", y3_dom, -9.69, -3.69, "FOM"),
    legend=dict(legend_style, y=px_y(box_tops[0] - 7)),
    legend2=dict(legend_style, y=px_y(box_tops[1] - 7)),
    legend3=dict(legend_style, y=px_y(box_tops[2] - 7)),
    shapes=shapes,
    showlegend=True,
)

# the page's default body margin would push the 827x1555 figure off the window
fig.write_html("out.html", config={"displayModeBar": False},
               post_script="document.body.style.margin='0';document.body.style.overflow='hidden';")
